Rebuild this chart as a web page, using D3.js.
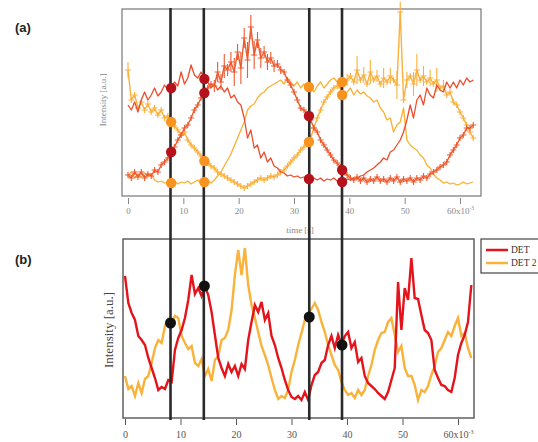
<!DOCTYPE html>
<html><head><meta charset="utf-8">
<script src="https://cdn.jsdelivr.net/npm/d3@7"></script>
<style>body{margin:0;background:#fff;} svg{display:block;}</style>
</head><body>
<svg id="c" width="538" height="442"></svg>
<script>
// ---------- DATA ----------
const sampleStep = 0.6;                       // s between samples
const times = d3.range(0, 62.4 + 1e-9, sampleStep); // 105 samples, 0 .. 62.4 s
const tickValues = [0, 10, 20, 30, 40, 50, 60];

// Panel (a): four traces (a.u.)
const aRedCross = [21,18,24,19,24,18,22,20,26,24,31,34,38,44,49,56,61,68,71,78,86,91,98,103,
  108,112,110,124,114,130,
  126,134,124,144,128,158,136,169,141,156,138,144,134,138,130,132,126,124,116,111,104,96,88,86,82,76,68,64,56,51,46,41,36,33,29,25,21,18,16,19,15,
  18,14,17,15,19,15,17,14,18,15,19,14,17,15,18,14,18,16,20,18,22,
  24,26,29,31,34,41,46,51,58,61,68,68,71];
const aRedCrossErr = [0,0,0,0,0,0,0,0,0,0, 0,0,0,0,0,0,0,0,0,0,
  0,0,0,0,0,0,6,10,8,12, 6,10,14,8,16,10,18,12,14,8, 10,6,8,6,6,4,4,0,0,0,
  0,0,0,0,0,0,0,0,0,0, 0,0,0,0,0,0,0,0,0,0, 0,0,0,0,0,0,0,0,0,0,
  0,0,0,0,0,0,0,0,0,0, 0,0,0,0,0,0,0,0,0,0, 0,0,0,0,0];
const aRedLine = [91,86,94,84,96,104,96,101,108,100,
  104,111,106,108,114,110,124,112,118,131,
  121,118,124,117,114,108,112,106,110,104,
  108,98,101,94,91,78,58,66,48,51,
  38,44,34,38,30,28,24,23,20,21,
  19,20,18,19,17,17,18,16,18,15,
  17,16,18,15,16,14,17,16,18,17,
  20,21,24,26,28,31,34,38,36,44,
  46,51,56,64,76,91,78,96,101,91,
  108,101,98,111,106,104,114,108,114,108,
  116,111,118,114,116];
const aOrangeCross = [126,96,101,88,94,86,92,84,88,81,
  86,78,80,74,70,66,61,64,56,51,
  48,44,40,35,33,30,28,24,22,20,
  18,16,14,12,10,8,10,12,14,16,
  18,16,18,20,19,21,24,26,30,34,
  38,41,46,49,53,58,68,78,86,94,
  99,104,108,110,108,112,116,120,114,126,
  116,121,112,124,116,120,112,118,114,120,
  116,111,184,96,116,120,112,126,116,120,
  114,118,112,116,108,110,101,104,94,91,
  84,78,71,64,58];
const aOrangeCrossErr = [8,0,0,0,0,0,0,0,0,0, 0,0,0,0,0,0,0,0,0,0,
  0,0,0,0,0,0,0,0,0,0, 0,0,0,0,0,0,0,0,0,0, 0,0,0,0,0,0,0,0,0,0,
  0,0,0,0,0,0,0,0,0,0, 0,0,0,0,0,0,6,0,0,14,
  0,8,0,12,0,6,0,10,0,8, 0,14,10,0,8,0,12,16,0,10,
  0,8,0,12,0,6,0,0,0,0, 0,0,0,0,0];
const aOrangeLine = [20,24,18,22,19,23,20,22,16,14,
  15,13,14,13,15,12,14,13,15,12,
  14,16,13,14,15,13,16,20,24,30,
  36,42,50,58,66,74,86,90,92,98,
  102,104,108,110,112,114,116,112,118,114,
  110,114,108,112,106,109,104,110,114,108,
  112,116,118,114,108,101,104,108,101,106,
  102,104,100,98,94,96,88,84,76,78,
  64,71,74,88,56,51,48,46,41,38,
  31,28,22,18,16,13,14,12,13,11,
  12,14,12,13,14];

// Panel (a) highlighted points at the four cursor times
const aMarkTimes = [7.8, 13.8, 32.7, 38.7];
const aMarkRed = [[108,44],[117,103],[80,17],[26,14]];
const aMarkOrange = [[74,13],[35,14],[109,54],[114,101]];

// Panel (b): DET and DET 2 (a.u.)
const det1 = [142,115,105,98,82,78,73,60,50,40,
  28,31,29,38,36,68,80,88,100,118,
  143,124,130,122,132,123,106,83,60,50,
  42,54,46,52,42,54,49,78,96,113,
  106,116,98,105,82,73,60,50,38,28,
  21,19,22,18,26,18,33,43,46,55,
  58,73,82,70,83,73,82,86,70,76,
  56,60,42,35,32,29,25,22,19,26,
  38,50,136,88,130,118,160,120,119,103,
  88,85,78,48,40,33,32,28,26,40,
  63,75,83,96,133];
const det2 = [42,29,32,22,35,25,39,42,55,70,
  78,75,92,99,96,102,100,82,75,69,
  72,55,52,59,42,49,37,58,62,78,
  80,88,108,143,168,143,170,133,113,100,
  86,72,63,53,40,28,19,22,20,28,
  46,58,73,85,98,104,109,115,108,96,
  86,73,63,53,48,36,28,23,25,20,
  28,23,28,42,53,68,78,85,86,96,
  100,83,66,72,50,42,42,33,18,28,
  26,32,43,52,66,70,78,86,82,92,
  100,82,85,70,60];
const bMarkTimes = [8.2, 14.3, 33.2, 39.1];
const bMarkValues = [95, 132, 101, 73];

// Cursor lines crossing both panels (s, on the lower time axis)
const cursorTimes = [8.2, 14.2, 33.2, 39.1];

const legendLabels = ["DET", "DET 2"];

// ---------- DRAW ----------
const svg = d3.select("#c");
const serif = "'Liberation Serif','Times New Roman',serif";

const xa = d3.scaleLinear().domain([0, 60]).range([128, 460]);
const ya = d3.scaleLinear().domain([0, 187]).range([196, 9]);
const xb = d3.scaleLinear().domain([0, 60]).range([125, 458]);
const yb = d3.scaleLinear().domain([0, 179]).range([418, 239]);

// frames
svg.append("rect").attr("x", 122).attr("y", 9).attr("width", 359).attr("height", 187)
  .attr("fill", "none").attr("stroke", "#777").attr("stroke-width", 1.2);
svg.append("rect").attr("x", 123).attr("y", 239).attr("width", 351).attr("height", 179)
  .attr("fill", "none").attr("stroke", "#555").attr("stroke-width", 1.4);

function styleAxis(g, color, size, textY) {
  g.select(".domain").remove();
  g.selectAll(".tick line").attr("stroke", color).attr("stroke-width", 1);
  g.selectAll(".tick text").attr("font-family", serif).attr("font-size", size)
    .attr("fill", color).attr("y", textY);
  const t60 = g.selectAll(".tick").filter(d => d === 60).select("text");
  t60.text("60x10").attr("text-anchor", "middle").attr("x", 0);
  t60.append("tspan").attr("dy", -size * 0.45).attr("font-size", size * 0.6).text("-3");
}
const axA = svg.append("g").attr("transform", "translate(0,198)")
  .call(d3.axisBottom(xa).tickValues(tickValues).tickSize(6));
styleAxis(axA, "#888", 9, 10);
const axB = svg.append("g").attr("transform", "translate(0,419)")
  .call(d3.axisBottom(xb).tickValues(tickValues).tickSize(6));
styleAxis(axB, "#555", 10, 12);

// axis titles
svg.append("text").attr("x", 300).attr("y", 233).attr("text-anchor", "middle")
  .attr("font-family", serif).attr("font-size", 9).attr("fill", "#888").text("time [s]");
svg.append("text").attr("transform", "translate(106,100) rotate(-90)").attr("text-anchor", "middle")
  .attr("font-family", serif).attr("font-size", 9).attr("fill", "#888").text("Intensity [a.u.]");
svg.append("text").attr("transform", "translate(113,330) rotate(-90)").attr("text-anchor", "middle")
  .attr("font-family", serif).attr("font-size", 13).attr("fill", "#444").text("Intensity [a.u.]");

// panel labels
svg.append("text").attr("x", 15).attr("y", 32).attr("font-family", "'Liberation Sans',Arial,sans-serif")
  .attr("font-weight", "bold").attr("font-size", 13).attr("fill", "#222").text("(a)");
svg.append("text").attr("x", 15).attr("y", 264).attr("font-family", "'Liberation Sans',Arial,sans-serif")
  .attr("font-weight", "bold").attr("font-size", 13).attr("fill", "#222").text("(b)");

// panel (a) traces
const lineA = d3.line().x((d, i) => xa(times[i])).y(d => ya(d));
const aTraces = [
  {v: aOrangeLine, c: "#f9b133", w: 1.3},
  {v: aOrangeCross, c: "#fbb03b", w: 1.4, err: aOrangeCrossErr},
  {v: aRedLine, c: "#ec4d2c", w: 1.3},
  {v: aRedCross, c: "#ef5a2f", w: 1.4, err: aRedCrossErr}
];
aTraces.forEach(tr => {
  svg.append("path").datum(tr.v).attr("d", lineA).attr("fill", "none")
    .attr("stroke", tr.c).attr("stroke-width", tr.w).attr("stroke-linejoin", "round");
  if (tr.err) {
    svg.append("g").selectAll("path").data(tr.v).join("path")
      .attr("d", (d, i) => {
        const x = xa(times[i]), y = ya(d);
        const top = Math.min(ya(d + tr.err[i]), y - 3), bot = Math.max(ya(d - tr.err[i]), y + 3);
        return `M${x - 3},${y}h6M${x},${top}V${bot}`;
      })
      .attr("stroke", tr.c).attr("stroke-width", 1.1).attr("fill", "none");
  }
});

// panel (b) traces
const lineB = d3.line().x((d, i) => xb(times[i])).y(d => yb(d));
svg.append("path").datum(det2).attr("d", lineB).attr("fill", "none")
  .attr("stroke", "#f9b23a").attr("stroke-width", 2.4).attr("stroke-linejoin", "miter");
svg.append("path").datum(det1).attr("d", lineB).attr("fill", "none")
  .attr("stroke", "#e3141b").attr("stroke-width", 2.4).attr("stroke-linejoin", "miter");

// cursor lines
svg.append("g").selectAll("line").data(cursorTimes).join("line")
  .attr("x1", d => xb(d)).attr("x2", d => xb(d)).attr("y1", 8).attr("y2", 420)
  .attr("stroke", "#2a2a2a").attr("stroke-width", 2.6);

// markers (a)
aMarkTimes.forEach((t, i) => {
  aMarkOrange[i].forEach(v => svg.append("circle").attr("cx", xa(t)).attr("cy", ya(v)).attr("r", 5.2).attr("fill", "#f7931e"));
  aMarkRed[i].forEach(v => svg.append("circle").attr("cx", xa(t)).attr("cy", ya(v)).attr("r", 5.2).attr("fill", "#b5121b"));
});
// markers (b)
svg.append("g").selectAll("circle").data(bMarkTimes).join("circle")
  .attr("cx", d => xb(d)).attr("cy", (d, i) => yb(bMarkValues[i])).attr("r", 5.5).attr("fill", "#111");

// legend
const lg = svg.append("g");
lg.append("rect").attr("x", 481).attr("y", 239).attr("width", 80).attr("height", 34)
  .attr("fill", "#fff").attr("stroke", "#444").attr("stroke-width", 1.2);
const legendColors = ["#e3141b", "#f9b23a"];
legendLabels.forEach((lab, i) => {
  const y = 250 + i * 13;
  lg.append("line").attr("x1", 486).attr("x2", 508).attr("y1", y).attr("y2", y)
    .attr("stroke", legendColors[i]).attr("stroke-width", 2.5);
  lg.append("text").attr("x", 511).attr("y", y + 3.3).attr("font-family", serif)
    .attr("font-size", 9.5).attr("fill", "#333").text(lab);
});
</script>
</body></html>
